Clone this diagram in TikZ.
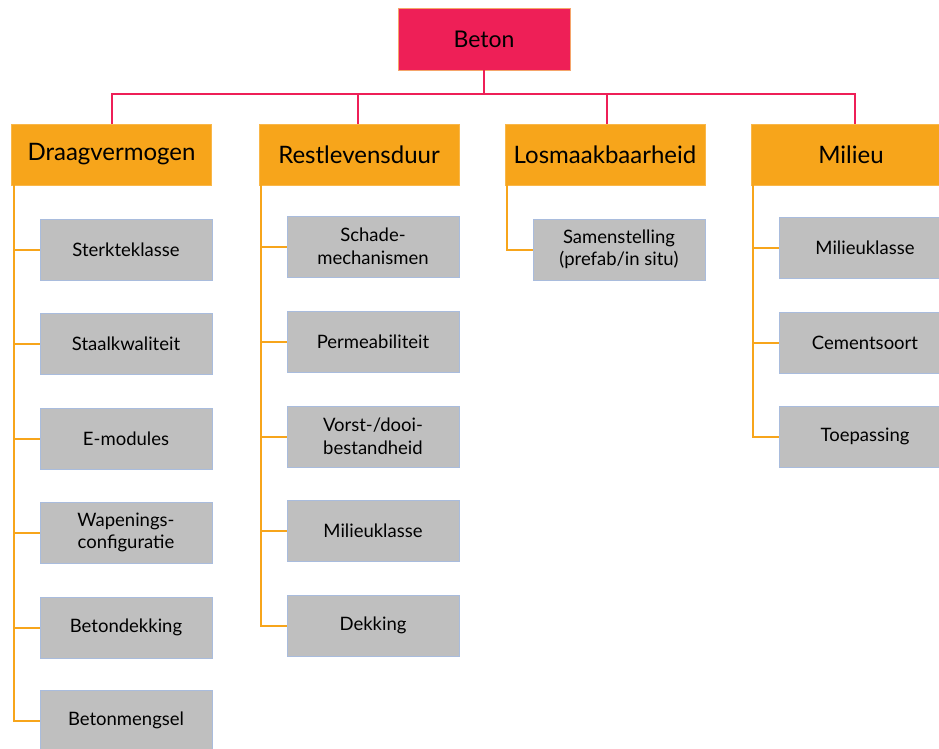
\documentclass[tikz,border=0pt]{standalone}
\usepackage{fontspec}
\setmainfont{Lato}
\definecolor{bpink}{HTML}{EE1F57}
\definecolor{borange}{HTML}{F7A51B}
\definecolor{bgrey}{HTML}{BFBFBF}
\definecolor{gborder}{HTML}{A9BCDD}
\definecolor{tborder}{HTML}{F5A46A}
\begin{document}
\begin{tikzpicture}[x=1pt,y=-1pt,
  topbox/.style={draw=tborder, line width=0.8pt, fill=bpink, minimum width=172pt, minimum height=62pt, inner sep=0pt, outer sep=0pt, font=\fontsize{23}{26}\selectfont},
  catbox/.style={draw=borange!80!white, line width=0.8pt, fill=borange, minimum width=200pt, minimum height=61pt, inner sep=0pt, outer sep=0pt, font=\fontsize{24}{27}\selectfont},
  leafbox/.style={draw=gborder, line width=0.8pt, fill=bgrey, minimum width=172pt, minimum height=61pt, inner sep=0pt, outer sep=0pt, align=center, font=\fontsize{18.5}{22.5}\selectfont},
  pline/.style={draw=bpink, line width=2pt},
  oline/.style={draw=borange, line width=2pt}]
\useasboundingbox (0,0) rectangle (939,749);
\fill[white] (0,0) rectangle (939,749);

\node[topbox] (beton) at (484,39) {Beton};

\node[catbox] (d) at (111.5,154.5) {Draagvermogen};
\node[catbox] (r) at (359,154.5) {Restlevensduur};
\node[catbox] (l) at (605,154.5) {Losmaakbaarheid};
\node[catbox] (m) at (851,154.5) {Milieu};

\coordinate (bus) at (484,94);
\draw[pline] (beton.south) -- (bus);
\draw[pline] (bus) -| (d.north);
\draw[pline] (bus) -| ([xshift=-1pt]r.north);
\draw[pline] (bus) -| ([xshift=2pt]l.north);
\draw[pline] (bus) -| ([xshift=4pt]m.north);

% Draagvermogen children
\node[leafbox] (d1) at (126,249.5) {Sterkteklasse};
\node[leafbox] (d2) at (126,343.5) {Staalkwaliteit};
\node[leafbox] (d3) at (126,438.5) {E-modules};
\node[leafbox] (d4) at (126,532.5) {Wapenings-\\configuratie};
\node[leafbox] (d5) at (126,627.5) {Betondekking};
\node[leafbox] (d6) at (126,720.5) {Betonmengsel};

% Restlevensduur children
\node[leafbox] (r1) at (373,246.5) {Schade-\\mechanismen};
\node[leafbox] (r2) at (373,341.5) {Permeabiliteit};
\node[leafbox] (r3) at (373,436.5) {Vorst-/dooi-\\bestandheid};
\node[leafbox] (r4) at (373,530.5) {Milieuklasse};
\node[leafbox] (r5) at (373,625.5) {Dekking};

% Losmaakbaarheid child
\node[leafbox] (l1) at (619,249.5) {Samenstelling\\(prefab/in situ)};

% Milieu children
\node[leafbox] (m1) at (865,247.5) {Milieuklasse};
\node[leafbox] (m2) at (865,342.5) {Cementsoort};
\node[leafbox] (m3) at (865,436.5) {Toepassing};

\foreach \c in {d1,d2,d3,d4,d5,d6}
  \draw[oline] ([xshift=2pt]d.south west) |- (\c.west);
\foreach \c in {r1,r2,r3,r4,r5}
  \draw[oline] ([xshift=2pt]r.south west) |- (\c.west);
\draw[oline] ([xshift=2pt]l.south west) |- (l1.west);
\foreach \c in {m1,m2,m3}
  \draw[oline] ([xshift=2pt]m.south west) |- (\c.west);
\end{tikzpicture}
\end{document}
